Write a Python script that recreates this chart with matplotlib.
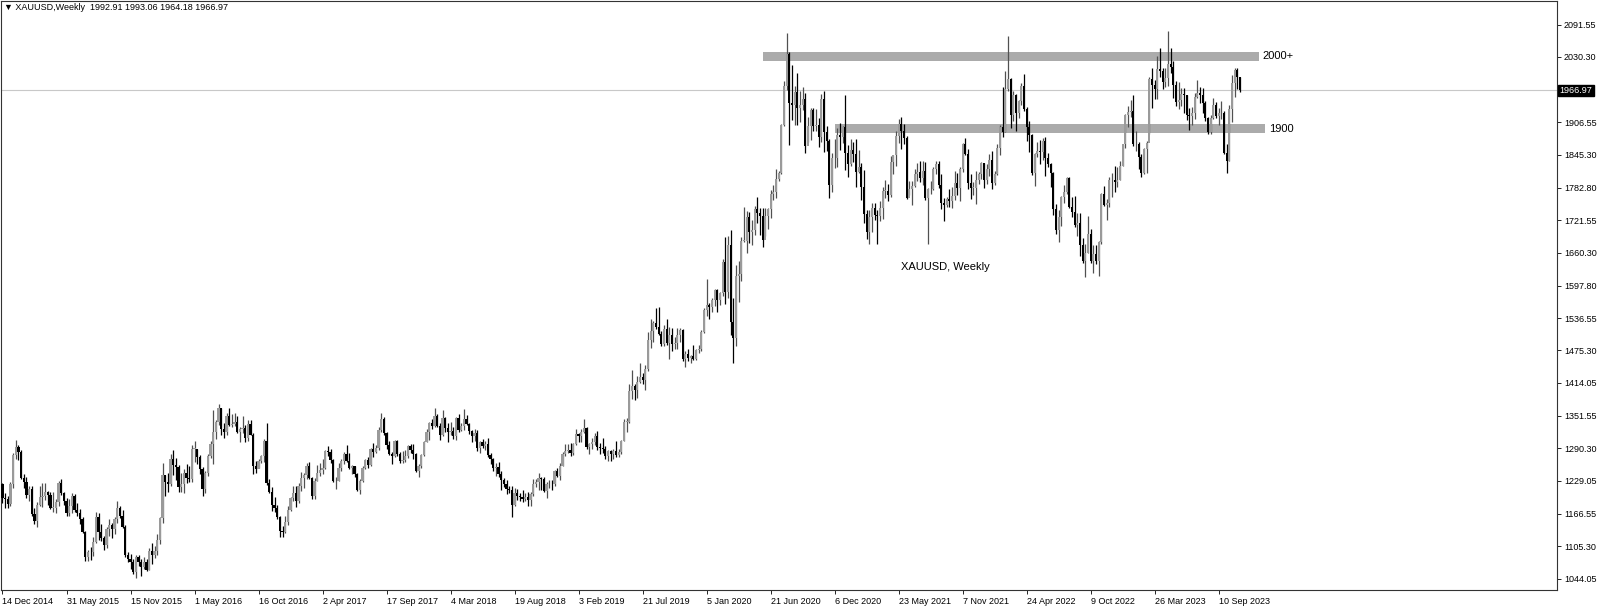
import matplotlib
matplotlib.use('Agg')
import matplotlib.pyplot as plt
import numpy as np

# XAUUSD weekly candles, 14 Dec 2014 .. 5 Nov 2023
first_open = 1222
closes = [
    1196, 1195, 1186, 1223, 1277, 1293, 1283, 1234, 1227, 1203,
    1213, 1167, 1152, 1184, 1199, 1201, 1207, 1203, 1178, 1178,
    1189, 1225, 1205, 1190, 1168, 1181, 1201, 1173, 1168, 1157,
    1133, 1085, 1095, 1094, 1113, 1160, 1133, 1121, 1108, 1137,
    1145, 1137, 1156, 1177, 1162, 1142, 1088, 1081, 1076, 1056,
    1085, 1076, 1066, 1076, 1061, 1097, 1089, 1097, 1117, 1158,
    1239, 1227, 1222, 1271, 1259, 1255, 1217, 1222, 1243, 1234,
    1232, 1290, 1290, 1273, 1252, 1213, 1243, 1275, 1298, 1322,
    1340, 1366, 1327, 1322, 1351, 1335, 1336, 1341, 1321, 1327,
    1328, 1310, 1337, 1316, 1257, 1252, 1267, 1276, 1304, 1225,
    1208, 1183, 1178, 1160, 1134, 1132, 1151, 1173, 1196, 1205,
    1190, 1220, 1234, 1239, 1257, 1234, 1201, 1229, 1243, 1249,
    1254, 1285, 1283, 1268, 1228, 1228, 1254, 1267, 1280, 1266,
    1254, 1256, 1241, 1212, 1228, 1254, 1269, 1258, 1289, 1284,
    1291, 1325, 1346, 1320, 1297, 1280, 1275, 1304, 1280, 1266,
    1269, 1275, 1294, 1288, 1280, 1248, 1256, 1278, 1303, 1322,
    1338, 1332, 1352, 1333, 1315, 1347, 1329, 1322, 1323, 1313,
    1347, 1325, 1332, 1345, 1336, 1323, 1314, 1320, 1291, 1302,
    1294, 1298, 1278, 1270, 1253, 1255, 1241, 1231, 1223, 1214,
    1212, 1184, 1206, 1201, 1198, 1194, 1199, 1192, 1204, 1222,
    1227, 1235, 1233, 1209, 1222, 1223, 1222, 1248, 1238, 1257,
    1280, 1285, 1288, 1282, 1298, 1318, 1314, 1322, 1328, 1293,
    1298, 1302, 1313, 1292, 1291, 1290, 1275, 1286, 1280, 1286,
    1277, 1284, 1305, 1341, 1341, 1399, 1409, 1400, 1415, 1426,
    1419, 1440, 1496, 1513, 1527, 1520, 1507, 1488, 1516, 1489,
    1504, 1488, 1490, 1505, 1514, 1459, 1468, 1462, 1464, 1460,
    1476, 1479, 1510, 1552, 1562, 1557, 1571, 1589, 1570, 1584,
    1643, 1585, 1674, 1530, 1498, 1617, 1620, 1683, 1683, 1727,
    1700, 1703, 1743, 1735, 1730, 1685, 1730, 1743, 1771, 1774,
    1799, 1810, 1902, 1975, 2035, 1944, 1940, 1964, 1933, 1940,
    1950, 1862, 1900, 1930, 1900, 1902, 1879, 1951, 1889, 1871,
    1788, 1839, 1839, 1882, 1878, 1898, 1849, 1828, 1855, 1847,
    1813, 1823, 1784, 1734, 1700, 1727, 1745, 1732, 1729, 1744,
    1777, 1777, 1769, 1831, 1844, 1881, 1903, 1891, 1877, 1764,
    1781, 1787, 1808, 1812, 1802, 1814, 1763, 1780, 1781, 1818,
    1827, 1788, 1754, 1750, 1761, 1757, 1768, 1792, 1783, 1818,
    1865, 1846, 1792, 1783, 1783, 1798, 1808, 1829, 1797, 1818,
    1835, 1791, 1808, 1859, 1898, 1889, 1970, 1988, 1921, 1958,
    1925, 1947, 1975, 1932, 1897, 1883, 1811, 1846, 1853, 1851,
    1871, 1840, 1827, 1811, 1742, 1703, 1727, 1766, 1775, 1802,
    1747, 1737, 1712, 1716, 1675, 1644, 1660, 1695, 1644, 1657,
    1645, 1681, 1771, 1751, 1755, 1797, 1797, 1793, 1798, 1824,
    1865, 1920, 1926, 1928, 1865, 1865, 1842, 1811, 1856, 1868,
    1989, 1978, 1969, 2007, 2004, 1983, 1990, 2017, 2011, 1978,
    1946, 1948, 1961, 1958, 1921, 1919, 1925, 1955, 1962, 1959,
    1943, 1914, 1889, 1915, 1940, 1919, 1924, 1925, 1848, 1833,
    1932, 1981, 2006, 1992.91, 1966.97,
]
highs = [
    1225, 1205, 1200, 1227, 1282, 1307, 1297, 1287, 1242, 1236,
    1219, 1220, 1178, 1188, 1219, 1224, 1224, 1209, 1208, 1208,
    1195, 1228, 1232, 1207, 1197, 1195, 1205, 1204, 1187, 1175,
    1160, 1134, 1099, 1104, 1123, 1170, 1168, 1148, 1124, 1141,
    1156, 1150, 1160, 1191, 1182, 1174, 1146, 1095, 1090, 1082,
    1088, 1088, 1081, 1085, 1082, 1101, 1112, 1106, 1128, 1160,
    1263, 1240, 1244, 1280, 1287, 1272, 1258, 1244, 1252, 1261,
    1256, 1296, 1304, 1290, 1278, 1255, 1248, 1280, 1304, 1362,
    1343, 1375, 1367, 1338, 1357, 1367, 1356, 1358, 1351, 1330,
    1352, 1335, 1343, 1344, 1319, 1266, 1271, 1277, 1308, 1338,
    1232, 1217, 1198, 1183, 1163, 1143, 1163, 1182, 1199, 1220,
    1220, 1224, 1245, 1244, 1262, 1264, 1236, 1234, 1259, 1262,
    1270, 1288, 1295, 1290, 1270, 1236, 1262, 1270, 1283, 1296,
    1282, 1259, 1257, 1243, 1232, 1256, 1271, 1274, 1291, 1300,
    1296, 1331, 1357, 1349, 1322, 1305, 1283, 1306, 1306, 1283,
    1285, 1288, 1297, 1299, 1299, 1281, 1260, 1280, 1305, 1326,
    1341, 1345, 1366, 1355, 1339, 1362, 1350, 1338, 1341, 1330,
    1350, 1356, 1339, 1365, 1354, 1339, 1325, 1327, 1325, 1304,
    1308, 1304, 1310, 1282, 1272, 1263, 1265, 1247, 1235, 1230,
    1219, 1219, 1215, 1214, 1206, 1212, 1205, 1208, 1208, 1233,
    1233, 1243, 1236, 1237, 1226, 1230, 1231, 1250, 1253, 1262,
    1283, 1298, 1298, 1300, 1301, 1326, 1319, 1326, 1346, 1330,
    1300, 1310, 1320, 1324, 1300, 1310, 1294, 1288, 1288, 1289,
    1304, 1289, 1306, 1346, 1348, 1411, 1439, 1411, 1427, 1452,
    1433, 1448, 1510, 1535, 1531, 1555, 1557, 1512, 1523, 1535,
    1519, 1517, 1500, 1518, 1517, 1516, 1474, 1478, 1466, 1485,
    1479, 1485, 1514, 1555, 1611, 1566, 1574, 1591, 1592, 1585,
    1649, 1689, 1692, 1703, 1575, 1637, 1644, 1690, 1747, 1739,
    1738, 1722, 1748, 1765, 1745, 1745, 1745, 1745, 1779, 1789,
    1818, 1814, 1904, 1984, 2075, 2039, 2015, 1976, 2000, 1966,
    1973, 1962, 1917, 1933, 1933, 1932, 1915, 1960, 1965, 1900,
    1876, 1848, 1875, 1896, 1906, 1900, 1959, 1864, 1875, 1870,
    1875, 1855, 1830, 1816, 1740, 1740, 1755, 1755, 1740, 1758,
    1785, 1798, 1790, 1843, 1845, 1890, 1913, 1916, 1903, 1880,
    1795, 1795, 1818, 1830, 1834, 1833, 1832, 1782, 1795, 1823,
    1834, 1833, 1809, 1764, 1765, 1781, 1785, 1814, 1810, 1823,
    1868, 1877, 1856, 1808, 1793, 1814, 1813, 1831, 1830, 1828,
    1847, 1853, 1815, 1865, 1902, 1974, 2003, 2070, 1990, 1966,
    1960, 1949, 1981, 1998, 1936, 1909, 1884, 1849, 1870, 1874,
    1877, 1879, 1848, 1830, 1813, 1752, 1740, 1768, 1788, 1804,
    1803, 1765, 1767, 1735, 1735, 1688, 1676, 1730, 1705, 1675,
    1675, 1682, 1773, 1787, 1761, 1804, 1810, 1824, 1823, 1833,
    1865, 1922, 1937, 1949, 1959, 1891, 1870, 1846, 1858, 1871,
    1993, 2009, 1987, 2032, 2048, 2010, 2009, 2079, 2048, 2022,
    1985, 1983, 1971, 1971, 1959, 1934, 1935, 1963, 1987, 1974,
    1971, 1947, 1916, 1920, 1953, 1945, 1934, 1947, 1928, 1865,
    1940, 1997, 2009, 2010, 1993.06,
]
lows = [
    1187, 1177, 1178, 1181, 1216, 1271, 1268, 1232, 1216, 1197,
    1191, 1163, 1147, 1142, 1182, 1180, 1192, 1183, 1175, 1170,
    1169, 1182, 1202, 1184, 1162, 1163, 1169, 1170, 1163, 1147,
    1131, 1077, 1078, 1080, 1086, 1112, 1117, 1116, 1098, 1102,
    1125, 1121, 1128, 1150, 1159, 1139, 1085, 1076, 1063, 1052,
    1046, 1068, 1049, 1062, 1058, 1060, 1072, 1083, 1089, 1110,
    1150, 1200, 1208, 1219, 1240, 1230, 1208, 1207, 1206, 1225,
    1226, 1227, 1265, 1260, 1242, 1200, 1206, 1238, 1272, 1260,
    1308, 1335, 1316, 1310, 1316, 1333, 1330, 1332, 1319, 1303,
    1320, 1302, 1305, 1315, 1241, 1243, 1254, 1262, 1265, 1221,
    1205, 1171, 1170, 1156, 1122, 1123, 1131, 1146, 1171, 1190,
    1180, 1187, 1210, 1216, 1233, 1232, 1195, 1195, 1228, 1238,
    1241, 1252, 1275, 1262, 1226, 1214, 1228, 1248, 1260, 1265,
    1251, 1241, 1236, 1210, 1204, 1226, 1251, 1254, 1256, 1273,
    1282, 1288, 1322, 1316, 1290, 1277, 1260, 1273, 1276, 1262,
    1263, 1264, 1272, 1282, 1270, 1245, 1236, 1253, 1276, 1302,
    1306, 1326, 1330, 1331, 1307, 1314, 1321, 1303, 1316, 1308,
    1307, 1321, 1323, 1325, 1335, 1317, 1302, 1304, 1286, 1282,
    1291, 1288, 1274, 1261, 1247, 1238, 1237, 1211, 1218, 1204,
    1205, 1160, 1181, 1193, 1191, 1189, 1191, 1182, 1182, 1201,
    1218, 1211, 1211, 1207, 1196, 1216, 1211, 1219, 1236, 1230,
    1256, 1276, 1281, 1276, 1278, 1296, 1302, 1302, 1320, 1290,
    1280, 1290, 1297, 1287, 1280, 1281, 1270, 1266, 1267, 1270,
    1273, 1273, 1280, 1305, 1322, 1339, 1384, 1382, 1386, 1413,
    1412, 1400, 1437, 1480, 1492, 1516, 1504, 1484, 1484, 1485,
    1459, 1474, 1478, 1478, 1491, 1456, 1445, 1455, 1451, 1458,
    1458, 1470, 1475, 1508, 1541, 1535, 1549, 1560, 1548, 1562,
    1578, 1563, 1575, 1504, 1451, 1484, 1567, 1606, 1680, 1660,
    1679, 1675, 1694, 1716, 1693, 1670, 1691, 1705, 1725, 1760,
    1763, 1796, 1808, 1900, 1967, 1863, 1911, 1902, 1902, 1907,
    1930, 1848, 1869, 1873, 1890, 1891, 1860, 1870, 1850, 1853,
    1764, 1775, 1820, 1823, 1854, 1867, 1817, 1803, 1825, 1832,
    1785, 1810, 1760, 1717, 1687, 1677, 1700, 1722, 1677, 1721,
    1723, 1763, 1757, 1766, 1808, 1825, 1868, 1856, 1866, 1761,
    1770, 1750, 1784, 1795, 1794, 1789, 1759, 1677, 1771, 1778,
    1809, 1782, 1742, 1721, 1747, 1746, 1745, 1760, 1770, 1758,
    1813, 1845, 1781, 1762, 1770, 1753, 1790, 1800, 1782, 1790,
    1806, 1780, 1788, 1807, 1844, 1878, 1889, 1965, 1895, 1910,
    1890, 1915, 1940, 1928, 1872, 1850, 1807, 1786, 1842, 1828,
    1836, 1805, 1822, 1784, 1732, 1696, 1680, 1711, 1754, 1772,
    1745, 1728, 1709, 1691, 1654, 1640, 1615, 1660, 1641, 1621,
    1638, 1617, 1676, 1748, 1722, 1747, 1766, 1774, 1785, 1797,
    1824, 1859, 1897, 1917, 1861, 1853, 1818, 1804, 1809, 1810,
    1885, 1934, 1950, 1950, 1992, 1969, 1974, 1975, 2000, 1952,
    1937, 1932, 1938, 1925, 1911, 1893, 1902, 1913, 1952, 1943,
    1924, 1909, 1885, 1885, 1913, 1915, 1901, 1913, 1846, 1810,
    1833, 1908, 1954, 1970, 1964.18,
]
opens = [first_open] + closes[:-1]

date_labels = ['14 Dec 2014', '31 May 2015', '15 Nov 2015', '1 May 2016', '16 Oct 2016',
               '2 Apr 2017', '17 Sep 2017', '4 Mar 2018', '19 Aug 2018', '3 Feb 2019',
               '21 Jul 2019', '5 Jan 2020', '21 Jun 2020', '6 Dec 2020', '23 May 2021',
               '7 Nov 2021', '24 Apr 2022', '9 Oct 2022', '26 Mar 2023', '10 Sep 2023']
price_ticks = [2091.55, 2030.30, 1906.55, 1845.30, 1782.80, 1721.55, 1660.30, 1597.80,
               1536.55, 1475.30, 1414.05, 1351.55, 1290.30, 1229.05, 1166.55, 1105.30, 1044.05]
last_price = 1966.97

# drawn zones (price range, first/last bar)
zone_high = (2023.5, 2039.5)
zone_high_bars = (285.2, 471.1)
zone_low = (1886.5, 1903.0)
zone_low_bars = (312.0, 473.4)

n = len(closes)
assert len(highs) == n and len(lows) == n

FONT = ['Liberation Sans', 'DejaVu Sans']

fig = plt.figure(figsize=(16, 6.08), dpi=100)
ax = fig.add_axes([1 / 1600, 18 / 608, 1556 / 1600, 589 / 608])

x = np.arange(n)
o = np.array(opens, dtype=float)
c = np.array(closes, dtype=float)
h = np.array(highs, dtype=float)
l = np.array(lows, dtype=float)
up = c >= o
body_cols = np.where(up, '#9a9a9a', '#000000')
wick_cols = np.where(up, '#505050', '#000000')

# zones behind candles
ax.fill_between(zone_high_bars, zone_high[0], zone_high[1], color='#ababab', lw=0, zorder=1)
ax.fill_between(zone_low_bars, zone_low[0], zone_low[1], color='#ababab', lw=0, zorder=1)
ax.text(zone_high_bars[1] + 1.5, sum(zone_high) / 2, '2000+', fontsize=8,
        family=FONT, va='center', ha='left')
ax.text(zone_low_bars[1] + 1.5, sum(zone_low) / 2, '1900', fontsize=8,
        family=FONT, va='center', ha='left')

ax.axhline(last_price, color='#c8c8c8', lw=0.8, zorder=1.5)

ax.vlines(x, l, h, colors=wick_cols, linewidth=0.9, zorder=2)
ax.bar(x, np.maximum(np.abs(c - o), 1.0), bottom=np.minimum(o, c), width=0.8,
       color=body_cols, linewidth=0, zorder=3)

ax.text(337, 1633, 'XAUUSD, Weekly', fontsize=8, family=FONT, va='center', ha='left')

ax.set_xlim(-0.56, -0.56 + 1556 / 2.667)
ax.set_ylim(1022.5, 2136.0)

ax.yaxis.tick_right()
ax.set_yticks(price_ticks)
ax.set_yticklabels(['%.2f' % v for v in price_ticks], family=FONT)
ax.set_xticks(np.arange(0, 24 * len(date_labels), 24))
ax.set_xticklabels(date_labels, ha='left', family=FONT)
ax.tick_params(axis='both', length=3, width=0.6, labelsize=6.5, pad=2, colors='#000000')
for s in ax.spines.values():
    s.set_linewidth(0.8)
    s.set_color('#333333')

ax.annotate('%.2f' % last_price, xy=(1, last_price), xycoords=('axes fraction', 'data'),
            xytext=(2.0, 0), textcoords='offset points', va='center', ha='left',
            fontsize=6.5, family=FONT, color='white', annotation_clip=False,
            bbox=dict(boxstyle='square,pad=0.15', fc='black', ec='black'))

fig.text(4 / 1600, 1 - 8 / 608, '\u25bc XAUUSD,Weekly  1992.91 1993.06 1964.18 1966.97',
         fontsize=6.5, family=FONT, va='center', ha='left')

fig.savefig('out.png', dpi=100)
